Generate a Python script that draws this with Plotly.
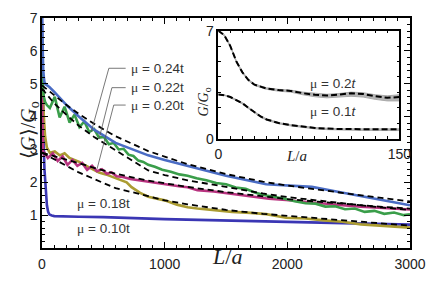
import plotly.graph_objects as go

# ---------------- main panel data ----------------
blue_L = [0,3,6,10,15,20,30,40,60,100,150,200,300,425,600,866,1000,1187,1500,1828,2000,2200,2400,2600,2800,3000]
blue_v = [7,6.3,5.8,5.4,5.2,5.05,4.98,4.95,4.9,4.75,4.55,4.35,4.0,3.6,3.2,2.82,2.68,2.5,2.2,1.94,1.9,1.86,1.72,1.58,1.42,1.3]

green_L = [0,3,8,15,25,40,64,104,144,184,225,265,305,345,385,425,465,505,545,585,625,665,705,745,785,826,866,920,980,1050,1120,1187,1260,1340,1420,1500,1580,1660,1740,1828,1900,1980,2060,2149,2230,2310,2390,2470,2550,2630,2710,2790,2870,2950,3000]
green_v = [5.6,5.0,4.85,4.6,4.45,4.35,4.26,4.6,3.97,4.3,3.82,4.06,3.68,3.85,3.53,3.62,3.36,3.38,3.16,3.2,3.0,3.02,2.84,2.8,2.66,2.62,2.53,2.47,2.38,2.32,2.24,2.2,2.12,2.06,1.98,1.94,1.84,1.8,1.68,1.6,1.55,1.5,1.42,1.36,1.35,1.26,1.27,1.18,1.2,1.1,1.13,1.04,1.08,1.0,1.03]

mag_L = [0,3,8,15,24,48,88,128,168,208,248,288,328,368,408,448,488,528,568,608,660,720,790,866,950,1040,1130,1187,1267,1400,1550,1700,1850,1990,2149,2300,2450,2600,2750,2900,3000]
mag_v = [4.6,3.3,2.95,2.85,2.88,2.74,2.88,2.65,2.79,2.53,2.68,2.5,2.59,2.38,2.5,2.34,2.4,2.26,2.3,2.18,2.16,2.1,2.06,2.02,1.96,1.92,1.87,1.85,1.76,1.72,1.64,1.58,1.5,1.46,1.4,1.36,1.3,1.26,1.22,1.2,1.17]

olive_L = [0,3,8,15,25,40,64,104,144,184,224,264,304,345,385,425,465,520,580,640,690,730,800,866,930,1000,1100,1187,1267,1400,1550,1700,1828,1990,2149,2300,2450,2600,2750,2900,3000]
olive_v = [6.5,5.2,4.6,4.0,3.4,3.05,2.9,2.94,2.82,2.88,2.74,2.68,2.62,2.53,2.45,2.38,2.3,2.24,2.16,2.09,2.0,1.85,1.68,1.56,1.5,1.45,1.32,1.24,1.2,1.15,1.1,1.07,1.03,0.92,0.9,0.84,0.8,0.72,0.68,0.64,0.62]

dblue_L = [0,3,6,10,15,20,30,40,50,60,80,100,300,500,1000,1500,2000,2500,3000]
dblue_v = [7,5.8,4.8,3.9,3.0,2.4,1.7,1.3,1.1,1.02,0.99,0.97,0.95,0.94,0.88,0.84,0.8,0.75,0.71]

fit_L = [0,100,200,300,425,600,866,1000,1187,1500,1800,2000,2250,2500,2750,3000]
blue_fit = [4.95,4.65,4.35,4.08,3.78,3.4,2.95,2.78,2.55,2.25,2.02,1.9,1.77,1.64,1.53,1.42]
green_fit = [4.85,4.4,4.05,3.72,3.38,2.98,2.36,2.22,2.06,1.86,1.66,1.55,1.44,1.33,1.24,1.16]
mag_fit = [2.9,2.8,2.7,2.58,2.44,2.26,2.05,1.97,1.86,1.7,1.57,1.49,1.41,1.33,1.26,1.2]
olive_fit = [2.9,2.7,2.5,2.3,2.1,1.82,1.58,1.45,1.33,1.16,1.04,0.98,0.9,0.82,0.75,0.68]

main_xticks = [0, 1000, 2000, 3000]
main_yticks = [1, 2, 3, 4, 5, 6, 7]

# ---------------- inset data ----------------
in_L02 = [0,5,10,15,20,25,30,40,50,60,70,80,90,100,110,120,130,140,150]
in_v02 = [7,6.7,6.0,5.0,4.3,3.8,3.5,3.25,3.15,3.1,2.95,2.85,2.8,2.85,2.95,2.9,2.75,2.65,2.7]
in_lo02 = [7,6.65,5.95,4.95,4.25,3.75,3.45,3.2,3.08,3.02,2.85,2.72,2.65,2.68,2.75,2.7,2.55,2.45,2.45]
in_hi02 = [7,6.75,6.05,5.05,4.35,3.85,3.55,3.3,3.2,3.15,3.02,2.93,2.88,2.93,3.02,2.98,2.85,2.78,2.85]

in_L01 = [0,5,10,15,20,25,30,35,40,50,60,70,80,90,100,120,150]
in_v01 = [2.87,2.82,2.7,2.5,2.3,2.0,1.72,1.45,1.25,1.02,0.88,0.78,0.7,0.66,0.63,0.62,0.62]
in_lo01 = [2.85,2.8,2.67,2.46,2.25,1.95,1.67,1.4,1.2,0.97,0.83,0.72,0.64,0.59,0.56,0.54,0.53]
in_hi01 = [2.89,2.84,2.73,2.54,2.34,2.04,1.76,1.49,1.29,1.05,0.91,0.81,0.73,0.68,0.65,0.64,0.64]

in_xticks = [0, 150]
in_yticks = [0, 7]

C_BLUE = "#4a6cc4"
C_GREEN = "#3a9e4a"
C_MAG = "#b8337f"
C_OLIVE = "#ab9c32"
C_DBLUE = "#3a36b4"

fig = go.Figure()

def line(x, y, color, width=2.6, dash=None, xa="x", ya="y"):
    fig.add_trace(go.Scatter(x=x, y=y, mode="lines", xaxis=xa, yaxis=ya,
                             line=dict(color=color, width=width, dash=dash),
                             hoverinfo="skip", showlegend=False))

line(dblue_L, dblue_v, C_DBLUE)
line(olive_L, olive_v, C_OLIVE)
line(mag_L, mag_v, C_MAG)
line(green_L, green_v, C_GREEN)
line(blue_L, blue_v, C_BLUE)
DASH = "6px,4px"
for f in (blue_fit, green_fit, mag_fit, olive_fit):
    line(fit_L, f, "black", width=1.8, dash=DASH)

# inset
for L, lo, hi in ((in_L02, in_lo02, in_hi02), (in_L01, in_lo01, in_hi01)):
    fig.add_trace(go.Scatter(x=L, y=lo, mode="lines", xaxis="x2", yaxis="y2",
                             line=dict(color="#aaaaaa", width=1), hoverinfo="skip", showlegend=False))
    fig.add_trace(go.Scatter(x=L, y=hi, mode="lines", xaxis="x2", yaxis="y2", fill="tonexty",
                             fillcolor="#b5b5b5",
                             line=dict(color="#aaaaaa", width=1), hoverinfo="skip", showlegend=False))
line(in_L02, in_v02, "black", width=2, dash="6px,3px", xa="x2", ya="y2")
line(in_L01, in_v01, "black", width=2, dash="6px,3px", xa="x2", ya="y2")

TICKF = dict(family="Liberation Sans, Arial, sans-serif", size=14, color="#222")
axis_common = dict(showline=True, linecolor="black", linewidth=1.5, mirror="ticks",
                   ticks="inside", tickcolor="black", showgrid=False, zeroline=False,
                   tickfont=TICKF)

fig.update_layout(
    width=436, height=285,
    margin=dict(l=42, r=20, t=10, b=37),
    paper_bgcolor="white", plot_bgcolor="white",
    xaxis=dict(range=[0, 3000], tickmode="array", tickvals=main_xticks,
               ticklen=6, tickwidth=1.2,
               minor=dict(dtick=100, ticklen=3, ticks="inside", tickcolor="black", tickwidth=1),
               domain=[0, 1], **axis_common),
    yaxis=dict(range=[0, 7], tickmode="array", tickvals=main_yticks,
               ticklen=6, tickwidth=1.2,
               minor=dict(dtick=0.2, ticklen=3, ticks="inside", tickcolor="black", tickwidth=1),
               domain=[0, 1], **axis_common),
    xaxis2=dict(range=[0, 150], tickmode="array", tickvals=in_xticks,
                ticklen=4, tickwidth=1, anchor="y2",
                minor=dict(dtick=10, ticklen=3, ticks="inside", tickcolor="black", tickwidth=1),
                domain=[0.479, 0.971], **axis_common),
    yaxis2=dict(range=[0, 7], tickmode="array", tickvals=in_yticks,
                ticklen=4, tickwidth=1, anchor="x2",
                minor=dict(dtick=1, ticklen=3, ticks="inside", tickcolor="black", tickwidth=1),
                domain=[0.475, 0.945], **axis_common),
)
fig.update_xaxes(ticklabelstandoff=2)

SERIF = "Liberation Serif, Times New Roman, serif"
SANS = "Liberation Sans, Arial, sans-serif"
ann = []
# axis titles
ann.append(dict(text="<i>L</i>/<i>a</i>", xref="paper", yref="paper", x=0.503, y=-0.10,
                showarrow=False, font=dict(family=SERIF, size=22, color="#222")))
ann.append(dict(text="⟨<i>G</i>⟩/<i>G</i><sub>o</sub>", xref="paper", yref="paper", x=-0.072, y=0.51,
                textangle=-90, showarrow=False, font=dict(family=SERIF, size=20, color="#222")))
ann.append(dict(text="<i>L</i>/<i>a</i>", xref="paper", yref="paper", x=0.725, y=0.40,
                showarrow=False, font=dict(family=SERIF, size=15, color="#222")))
ann.append(dict(text="<i>G</i>/<i>G</i><sub>o</sub>", xref="paper", yref="paper", x=0.441, y=0.706,
                textangle=-90, showarrow=False, font=dict(family=SERIF, size=14, color="#222")))

MU = "<span style='font-family:Liberation Serif'>μ</span>"
labels_main = [("μ = 0.24t", 706, 5.47), ("μ = 0.22t", 706, 4.88), ("μ = 0.20t", 706, 4.35),
               ("μ = 0.18t", 265, 1.35), ("μ = 0.10t", 265, 0.59)]
for t, x, y in labels_main:
    ann.append(dict(text=t.replace("μ", MU), x=x, y=y, xref="x", yref="y", xanchor="left",
                    showarrow=False, font=dict(family=SANS, size=13.5, color="#333")))
for t, x, y in (("μ = 0.2<i>t</i>", 74, 3.6), ("μ = 0.1<i>t</i>", 74, 1.75)):
    ann.append(dict(text=t.replace("μ", MU), x=x, y=y, xref="x2", yref="y2", xanchor="left",
                    showarrow=False, font=dict(family=SANS, size=13.5, color="#333")))
fig.update_layout(annotations=ann)

# leader lines
leaders = [((682, 5.47), (545, 5.47), (401, 3.53)),
           ((682, 4.88), (570, 4.88), (465, 3.32)),
           ((682, 4.35), (585, 4.35), (449, 2.41))]
for a, b, c in leaders:
    fig.add_trace(go.Scatter(x=[a[0], b[0], c[0]], y=[a[1], b[1], c[1]], mode="lines",
                             line=dict(color="#555", width=0.8), hoverinfo="skip", showlegend=False))

fig.write_html("out.html", config={"displayModeBar": False},
               post_script="document.body.style.margin='0';document.body.style.overflow='hidden';")
